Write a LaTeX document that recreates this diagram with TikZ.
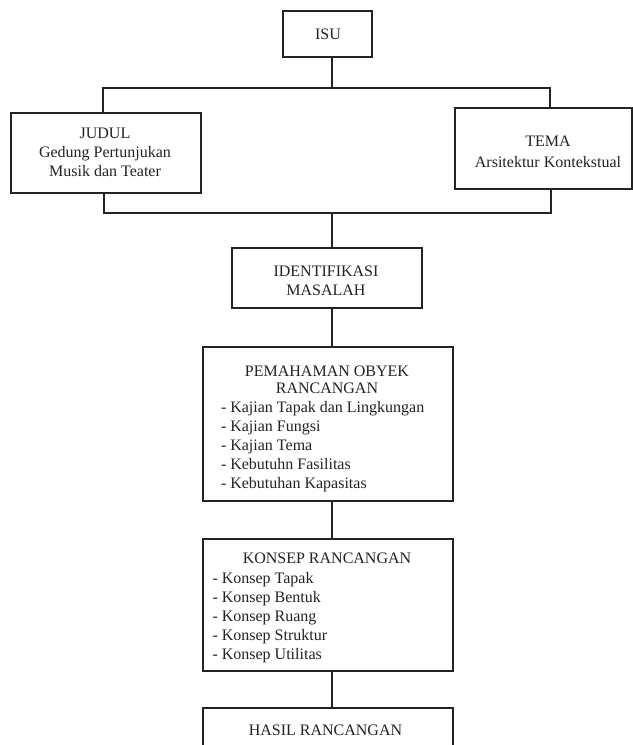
\documentclass[tikz,border=0pt]{standalone}
\usepackage{fontspec}
\setmainfont{Liberation Serif}
\definecolor{ink}{RGB}{35,35,35}
\begin{document}
\begin{tikzpicture}[x=1bp,y=-1bp,
  box/.style={draw=ink,line width=1.1bp,inner sep=0pt,outer sep=0pt,fill=white},
  txt/.style={text=ink,inner sep=0pt,outer sep=0pt,font=\fontsize{16bp}{18.9bp}\selectfont},
  link/.style={draw=ink,line width=1.1bp}]
\useasboundingbox (0,0) rectangle (633,745);
\clip (0,0) rectangle (633,745);
% boxes
\node[box,minimum width=89bp,minimum height=46bp] (isu) at (327.5,34) {};
\node[box,minimum width=190bp,minimum height=80bp] (judul) at (106,153) {};
\node[box,minimum width=177bp,minimum height=81bp] (tema) at (543.5,148.5) {};
\node[box,minimum width=190bp,minimum height=60bp] (ident) at (327,278) {};
\node[box,minimum width=250bp,minimum height=154bp] (pem) at (328,424) {};
\node[box,minimum width=250bp,minimum height=132bp] (konsep) at (328,605) {};
\node[box,minimum width=250bp,minimum height=72bp] (hasil) at (328,744) {};
% texts
\node[txt,anchor=base] (tisu) at (328,39.5) {ISU};
\node[txt,anchor=north,align=center] (tjudul) at (105,128.4) {JUDUL\\Gedung Pertunjukan\\Musik dan Teater};
\node[txt,anchor=north,align=center,font=\fontsize{16bp}{20.3bp}\selectfont] (ttema) at (548,136.4) {TEMA\\Arsitektur Kontekstual};
\node[txt,anchor=north,align=center,font=\fontsize{16bp}{18.5bp}\selectfont] (tident) at (326,266.4) {IDENTIFIKASI\\MASALAH};
\node[txt,anchor=north,align=center,font=\fontsize{16bp}{16.7bp}\selectfont] (tpemh) at (327,366) {PEMAHAMAN OBYEK\\RANCANGAN};
\node[txt,anchor=north west,align=left,font=\fontsize{16bp}{19bp}\selectfont] (tpeml) at (221,401.6) {- Kajian Tapak dan Lingkungan\\- Kajian Fungsi\\- Kajian Tema\\- Kebutuhn Fasilitas\\- Kebutuhan Kapasitas};
\node[txt,anchor=base] (tkonh) at (327,563) {KONSEP RANCANGAN};
\node[txt,anchor=north west,align=left,font=\fontsize{16bp}{19bp}\selectfont] (tkonl) at (212.5,572.1) {- Konsep Tapak\\- Konsep Bentuk\\- Konsep Ruang\\- Konsep Struktur\\- Konsep Utilitas};
\node[txt,anchor=base] (thasil) at (325.5,735) {HASIL RANCANGAN};
% connectors
\coordinate (b1) at (332,88);
\coordinate (b2) at (332,213);
\draw[link] (isu.south -| b1) -- (b1);
\draw[link] ([xshift=-3bp]judul.north) |- (b1) -| ([xshift=6.5bp]tema.north);
\draw[link] ([xshift=-2bp]judul.south) |- (b2) -| ([xshift=7.5bp]tema.south);
\draw[link] (b2) -- (b2 |- ident.north);
\draw[link] (ident.south -| b2) -- (b2 |- pem.north);
\draw[link] (pem.south -| b2) -- (b2 |- konsep.north);
\draw[link] (konsep.south -| b2) -- (b2 |- hasil.north);
\end{tikzpicture}
\end{document}
